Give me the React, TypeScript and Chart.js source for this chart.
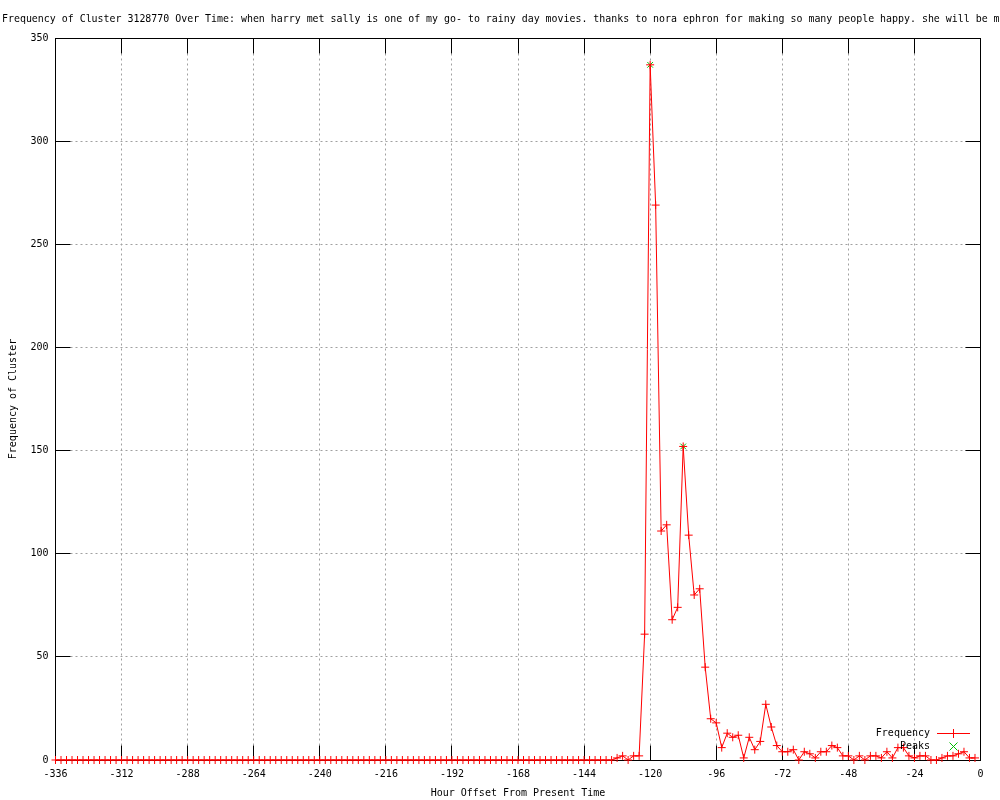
import React, { useEffect, useRef } from 'react';
import { Chart, registerables } from 'chart.js';

Chart.register(...registerables);

const TITLE =
  'Frequency of Cluster 3128770 Over Time: when harry met sally is one of my go- to rainy day movies. thanks to nora ephron for making so many people happy. she will be missed.';
const X_TITLE = 'Hour Offset From Present Time';
const Y_TITLE = 'Frequency of Cluster';
const SERIES_NAME = 'Frequency';
const PEAKS_NAME = 'Peaks';

// hour offset of the first sample and the spacing between samples
const START_HOUR = -336;
const HOUR_STEP = 2;

// frequency per 2-hour bucket, from -336 to -2
const frequency = [
  0, 0, 0, 0, 0, 0, 0, 0, 0, 0, 0, 0,
  0, 0, 0, 0, 0, 0, 0, 0, 0, 0, 0, 0,
  0, 0, 0, 0, 0, 0, 0, 0, 0, 0, 0, 0,
  0, 0, 0, 0, 0, 0, 0, 0, 0, 0, 0, 0,
  0, 0, 0, 0, 0, 0, 0, 0, 0, 0, 0, 0,
  0, 0, 0, 0, 0, 0, 0, 0, 0, 0, 0, 0,
  0, 0, 0, 0, 0, 0, 0, 0, 0, 0, 0, 0,
  0, 0, 0, 0, 0, 0, 0, 0, 0, 0, 0, 0,
  0, 0, 0, 0, 0, 0,
  1, 2, 0, 2, 2, 61, 337, 269, 111, 114,
  68, 74, 152, 109, 80, 83, 45, 20, 18, 6,
  13, 11, 12, 1, 11, 5, 9, 27, 16, 7,
  4, 4, 5, 0, 4, 3, 1, 4, 4, 7,
  6, 2, 2, 0, 2, 0, 2, 2, 1, 4,
  1, 6, 6, 2, 1, 2, 2, 0, 0, 1,
  2, 2, 3, 4, 1, 1,
];

const peakHours = [-120, -108];
const peakValues = [337, 152];

const xTicks = [-336, -312, -288, -264, -240, -216, -192, -168, -144, -120, -96, -72, -48, -24, 0];
const yTicks = [0, 50, 100, 150, 200, 250, 300, 350];

const FONT = '10px "DejaVu Sans Mono", "Liberation Mono", monospace';
const TITLE_FONT = '9.94px "DejaVu Sans Mono", "Liberation Mono", monospace';
const RED = '#ff0000';
const GREEN = '#00c000';
const GRID = '#a0a0a0';

const gnuplotFrame = {
  id: 'gnuplotFrame',
  beforeDraw(chart: any) {
    const ctx = chart.ctx;
    ctx.save();
    ctx.fillStyle = '#ffffff';
    ctx.fillRect(0, 0, chart.width, chart.height);
    ctx.restore();
  },
  beforeDatasetsDraw(chart: any) {
    const ctx = chart.ctx;
    const { left, right, top, bottom } = chart.chartArea;
    const xs = chart.scales.x;
    const ys = chart.scales.y;
    const L = Math.floor(left) + 0.5;
    const R = Math.floor(right) + 0.5;
    const T = Math.floor(top) + 0.5;
    const B = Math.floor(bottom) + 0.5;
    ctx.save();
    ctx.lineWidth = 1;
    // dotted grid
    ctx.strokeStyle = GRID;
    ctx.setLineDash([2, 3]);
    xTicks.forEach((v) => {
      const px = Math.floor(xs.getPixelForValue(v)) + 0.5;
      if (Math.abs(px - L) < 1 || Math.abs(px - R) < 1) return;
      ctx.beginPath();
      ctx.moveTo(px, T);
      ctx.lineTo(px, B);
      ctx.stroke();
    });
    yTicks.forEach((v) => {
      const py = Math.floor(ys.getPixelForValue(v)) + 0.5;
      if (Math.abs(py - T) < 1 || Math.abs(py - B) < 1) return;
      ctx.beginPath();
      ctx.moveTo(L, py);
      ctx.lineTo(R, py);
      ctx.stroke();
    });
    ctx.setLineDash([]);
    // border
    ctx.strokeStyle = '#000000';
    ctx.strokeRect(L, T, R - L, B - T);
    // inward tick marks on all four sides
    const TL = 15;
    ctx.beginPath();
    xTicks.forEach((v) => {
      const px = Math.floor(xs.getPixelForValue(v)) + 0.5;
      ctx.moveTo(px, B);
      ctx.lineTo(px, B - TL);
      ctx.moveTo(px, T);
      ctx.lineTo(px, T + TL);
    });
    yTicks.forEach((v) => {
      const py = Math.floor(ys.getPixelForValue(v)) + 0.5;
      ctx.moveTo(L, py);
      ctx.lineTo(L + TL, py);
      ctx.moveTo(R, py);
      ctx.lineTo(R - TL, py);
    });
    ctx.stroke();
    ctx.restore();
  },
  afterDatasetsDraw(chart: any) {
    const ctx = chart.ctx;
    ctx.save();
    ctx.font = FONT;
    ctx.fillStyle = '#000000';
    ctx.textBaseline = 'middle';
    ctx.textAlign = 'right';
    ctx.fillText(SERIES_NAME, 930, 733.5);
    ctx.fillText(PEAKS_NAME, 930, 746.5);
    ctx.lineWidth = 1;
    ctx.strokeStyle = RED;
    ctx.beginPath();
    ctx.moveTo(937, 733.5);
    ctx.lineTo(970, 733.5);
    ctx.moveTo(953.5, 729);
    ctx.lineTo(953.5, 738);
    ctx.stroke();
    ctx.strokeStyle = GREEN;
    ctx.beginPath();
    ctx.moveTo(949.5, 742.5);
    ctx.lineTo(957.5, 750.5);
    ctx.moveTo(949.5, 750.5);
    ctx.lineTo(957.5, 742.5);
    ctx.stroke();
    ctx.restore();
  },
  afterDraw(chart: any) {
    const ctx = chart.ctx;
    const { left, right, top, bottom } = chart.chartArea;
    ctx.save();
    ctx.fillStyle = '#000000';
    ctx.textBaseline = 'middle';
    ctx.font = TITLE_FONT;
    ctx.textAlign = 'left';
    ctx.fillText(TITLE, 2, 19);
    ctx.font = FONT;
    ctx.textAlign = 'center';
    ctx.fillText(X_TITLE, (left + right) / 2, 793);
    ctx.translate(13, (top + bottom) / 2);
    ctx.rotate(-Math.PI / 2);
    ctx.fillText(Y_TITLE, 0, 0);
    ctx.restore();
  },
};

export default function App() {
  const ref = useRef<HTMLCanvasElement | null>(null);

  useEffect(() => {
    const canvas = ref.current;
    if (!canvas) return;
    const freqPoints = frequency.map((v, i) => ({ x: START_HOUR + i * HOUR_STEP, y: v }));
    const peakPoints = peakHours.map((h, i) => ({ x: h, y: peakValues[i] }));
    const chart = new Chart(canvas, {
      type: 'line',
      data: {
        datasets: [
          {
            label: SERIES_NAME,
            data: freqPoints,
            borderColor: RED,
            backgroundColor: RED,
            borderWidth: 1,
            pointStyle: 'cross',
            pointRadius: 4,
            pointBorderWidth: 1,
            pointBorderColor: RED,
            tension: 0,
            fill: false,
            clip: false as any,
          },
          {
            label: PEAKS_NAME,
            data: peakPoints,
            showLine: false,
            borderColor: GREEN,
            backgroundColor: GREEN,
            pointStyle: 'crossRot',
            pointRadius: 4,
            pointBorderWidth: 1,
            pointBorderColor: GREEN,
            clip: false as any,
          },
        ],
      },
      options: {
        animation: false,
        responsive: false,
        maintainAspectRatio: false,
        events: [],
        layout: { padding: { top: 38, right: 19.5, left: 0, bottom: 0 } },
        plugins: {
          legend: { display: false },
          title: { display: false },
          tooltip: { enabled: false },
        },
        scales: {
          x: {
            type: 'linear',
            min: -336,
            max: 0,
            grid: { display: false, drawTicks: false },
            border: { display: false },
            afterBuildTicks: (scale: any) => {
              scale.ticks = xTicks.map((v) => ({ value: v }));
            },
            afterFit: (scale: any) => {
              scale.height = 40;
            },
            ticks: {
              autoSkip: false,
              maxRotation: 0,
              minRotation: 0,
              padding: 8,
              color: '#000000',
              font: { family: '"DejaVu Sans Mono", monospace', size: 10 },
              callback: (v: any) => String(v),
            },
          },
          y: {
            type: 'linear',
            min: 0,
            max: 350,
            grid: { display: false, drawTicks: false },
            border: { display: false },
            afterBuildTicks: (scale: any) => {
              scale.ticks = yTicks.map((v) => ({ value: v }));
            },
            afterFit: (scale: any) => {
              scale.width = 55.5;
            },
            ticks: {
              autoSkip: false,
              padding: 7,
              color: '#000000',
              font: { family: '"DejaVu Sans Mono", monospace', size: 10 },
              callback: (v: any) => String(v),
            },
          },
        },
      },
      plugins: [gnuplotFrame],
    });
    return () => chart.destroy();
  }, []);

  return (
    <div style={{ position: 'absolute', left: 0, top: 0, width: 1000, height: 800, background: '#ffffff' }}>
      <canvas ref={ref} width={1000} height={800} style={{ display: 'block', width: 1000, height: 800 }} />
    </div>
  );
}
